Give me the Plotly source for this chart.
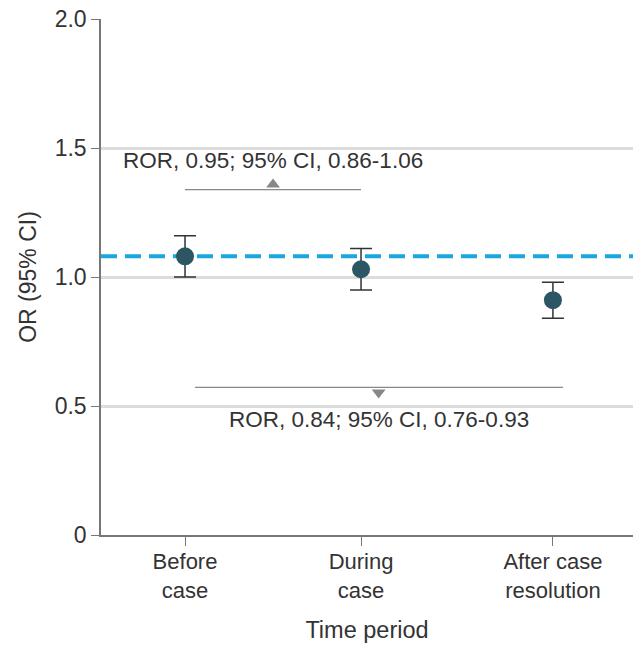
import plotly.graph_objects as go

categories = ["Before<br>case", "During<br>case", "After case<br>resolution"]
x_pos = [1.0, 2.0, 3.09]
or_values = [1.08, 1.03, 0.91]
ci_lower = [1.00, 0.95, 0.84]
ci_upper = [1.16, 1.11, 0.98]
reference_or = 1.08

ror_labels = ["ROR, 0.95; 95% CI, 0.86-1.06", "ROR, 0.84; 95% CI, 0.76-0.93"]
y_ticks = [0, 0.5, 1.0, 1.5, 2.0]
y_ticktext = ["0", "0.5", "1.0", "1.5", "2.0"]

FONT = "Liberation Sans, Arial, sans-serif"
TXT = "#333333"

fig = go.Figure()

# reference dashed line (between gridlines and data)
fig.add_shape(type="line", xref="paper", x0=0, x1=1, y0=reference_or, y1=reference_or,
              line=dict(color="#1aa6df", width=4, dash="16px,8px"), layer="between")

fig.add_trace(go.Scatter(
    x=x_pos, y=or_values, mode="markers",
    marker=dict(size=18, color="#2d5664"),
    error_y=dict(type="data", symmetric=False,
                 array=[u - v for u, v in zip(ci_upper, or_values)],
                 arrayminus=[v - l for v, l in zip(or_values, ci_lower)],
                 color="#333333", thickness=1.5, width=11),
    showlegend=False, hoverinfo="skip"))

# brackets
top_y = 1.339
bot_y = 0.572
fig.add_shape(type="line", x0=x_pos[0], x1=x_pos[1], y0=top_y, y1=top_y,
              line=dict(color="#888888", width=1.2))
fig.add_shape(type="line", x0=1.057, x1=3.148, y0=bot_y, y1=bot_y,
              line=dict(color="#888888", width=1.2))
fig.add_trace(go.Scatter(x=[1.5], y=[top_y + 0.02], mode="markers",
                         marker=dict(symbol="triangle-up", size=12, color="#888888"),
                         showlegend=False, hoverinfo="skip"))
fig.add_trace(go.Scatter(x=[2.10], y=[bot_y - 0.02], mode="markers",
                         marker=dict(symbol="triangle-down", size=12, color="#888888"),
                         showlegend=False, hoverinfo="skip"))

fig.add_annotation(x=1.5, y=1.453, text=ror_labels[0], showarrow=False,
                   font=dict(family=FONT, size=22.5, color=TXT))
fig.add_annotation(x=2.10, y=0.446, text=ror_labels[1], showarrow=False,
                   font=dict(family=FONT, size=22.5, color=TXT))

fig.update_layout(
    width=633, height=645,
    margin=dict(l=101, r=0, t=19, b=110),
    plot_bgcolor="white", paper_bgcolor="white",
    font=dict(family=FONT, size=22, color=TXT),
    xaxis=dict(range=[0.5227, 3.545], tickvals=x_pos, ticktext=categories,
               showgrid=False, zeroline=False, showline=True, linecolor="#777777",
               linewidth=1.5, ticks="outside", ticklen=9, tickcolor="#777777",
               ticklabelstandoff=-3,
               tickfont=dict(family=FONT, size=22, color=TXT),
               title=dict(text="Time period", font=dict(family=FONT, size=23.5, color=TXT), standoff=20)),
    yaxis=dict(range=[0, 2.0], tickvals=y_ticks, ticktext=y_ticktext,
               showgrid=True, gridcolor="#dcdcdc", gridwidth=3, zeroline=False,
               showline=True, linecolor="#777777", linewidth=1.5,
               ticks="outside", ticklen=8, tickcolor="#777777",
               tickfont=dict(family=FONT, size=23, color=TXT),
               title=dict(text="OR (95% CI)", font=dict(family=FONT, size=23, color=TXT), standoff=12)),
)

fig.write_html("out.html", config={"displayModeBar": False},
               post_script="document.body.style.margin='0';document.body.style.overflow='hidden';")
